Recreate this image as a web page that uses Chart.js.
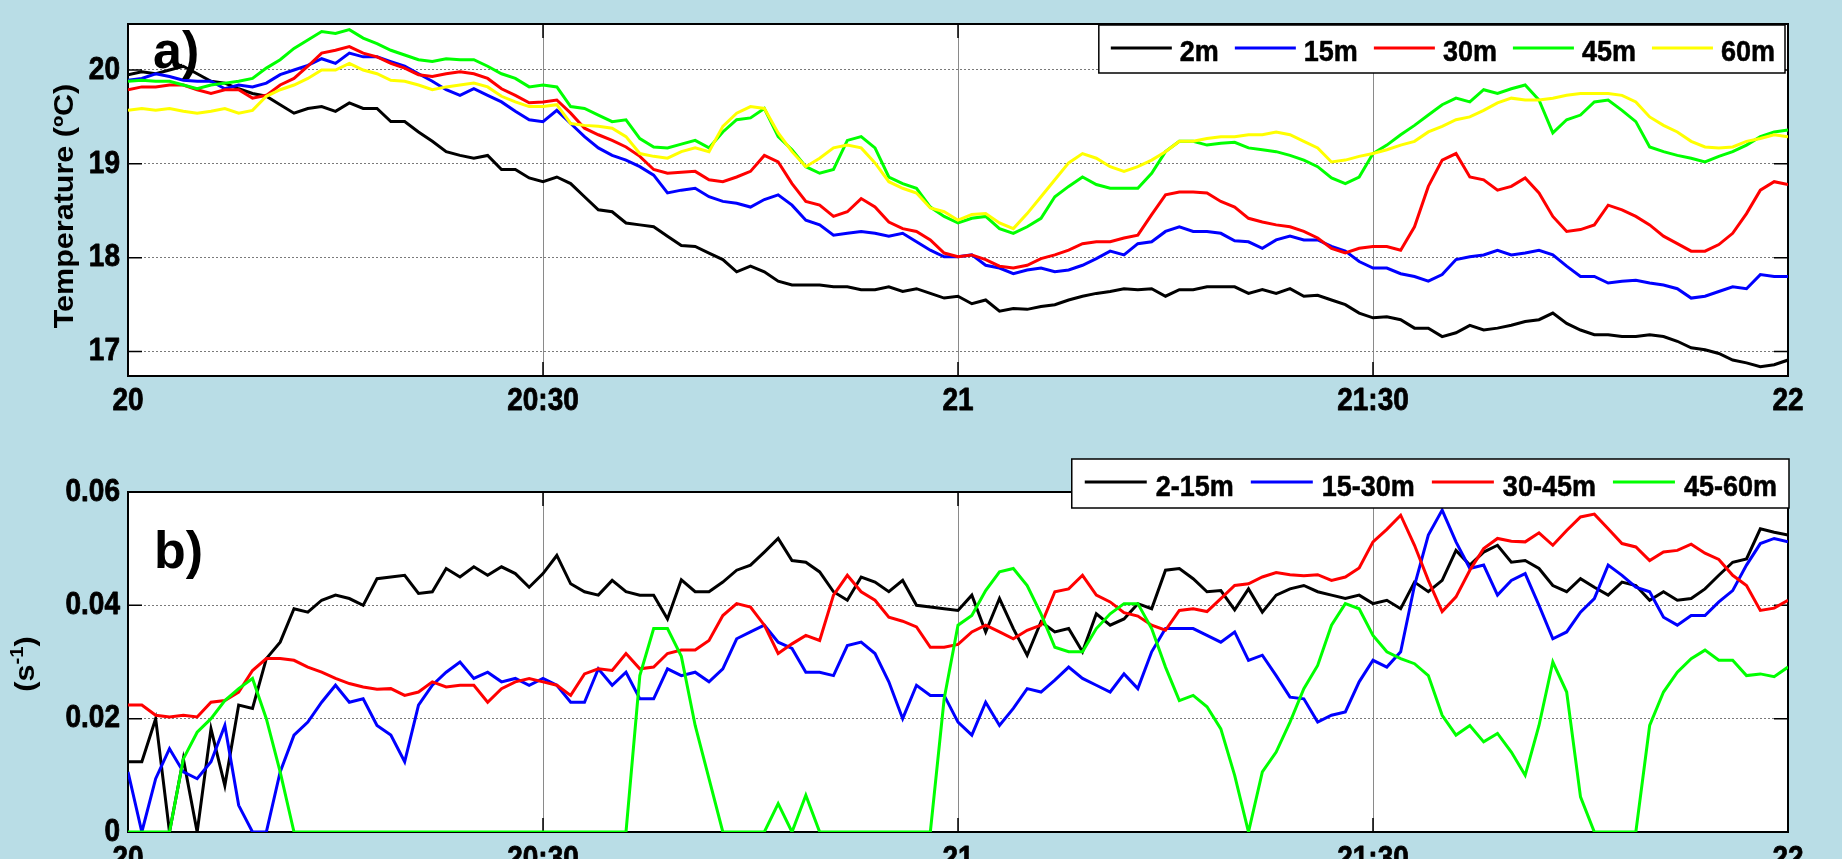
<!DOCTYPE html>
<html>
<head>
<meta charset="utf-8">
<script src="https://cdn.jsdelivr.net/npm/chart.js@4.4.1/dist/chart.umd.min.js"></script>
<style>
  html, body { margin: 0; padding: 0; background: rgb(185, 221, 230); overflow: hidden; }
  canvas { position: absolute; left: 0; display: block; }
  #tempChart { top: 0; }
  #shearChart { top: 430px; }
</style>
</head>
<body>
<canvas id="tempChart" width="1842" height="430"></canvas>
<canvas id="shearChart" width="1842" height="429"></canvas>
<script>
// minutes after 20:00, one sample per minute
const minutes = [
  0, 1, 2, 3, 4, 5, 6, 7, 8, 9, 10, 11, 12, 13, 14, 15, 16, 17, 18, 19, 20,
  21, 22, 23, 24, 25, 26, 27, 28, 29, 30, 31, 32, 33, 34, 35, 36, 37, 38, 39, 40,
  41, 42, 43, 44, 45, 46, 47, 48, 49, 50, 51, 52, 53, 54, 55, 56, 57, 58, 59, 60,
  61, 62, 63, 64, 65, 66, 67, 68, 69, 70, 71, 72, 73, 74, 75, 76, 77, 78, 79, 80,
  81, 82, 83, 84, 85, 86, 87, 88, 89, 90, 91, 92, 93, 94, 95, 96, 97, 98, 99, 100,
  101, 102, 103, 104, 105, 106, 107, 108, 109, 110, 111, 112, 113, 114, 115, 116, 117, 118, 119, 120
];

const xTickMinutes = [0, 30, 60, 90, 120];
const xTickLabels = ['20', '20:30', '21', '21:30', '22'];

// panel a) temperature (ºC)
const tempLabels = ['2m', '15m', '30m', '45m', '60m'];
const temp2m = [
  19.95, 19.98, 19.96, 20.00, 20.04, 19.96, 19.88, 19.86, 19.80, 19.75, 19.72,
  19.63, 19.54, 19.59, 19.61, 19.56, 19.65, 19.59, 19.59, 19.45, 19.45,
  19.34, 19.24, 19.13, 19.09, 19.06, 19.09, 18.94, 18.94, 18.85, 18.81,
  18.86, 18.79, 18.65, 18.51, 18.49, 18.37, 18.35, 18.33, 18.23, 18.13,
  18.12, 18.05, 17.98, 17.85, 17.91, 17.85, 17.75, 17.71, 17.71, 17.71,
  17.69, 17.69, 17.66, 17.66, 17.69, 17.64, 17.67, 17.62, 17.57, 17.59,
  17.51, 17.55, 17.43, 17.46, 17.45, 17.48, 17.50, 17.55, 17.59, 17.62,
  17.64, 17.67, 17.66, 17.67, 17.59, 17.66, 17.66, 17.69, 17.69, 17.69,
  17.62, 17.66, 17.62, 17.67, 17.59, 17.60, 17.55, 17.50, 17.41, 17.36,
  17.37, 17.34, 17.25, 17.25, 17.16, 17.20, 17.28, 17.23, 17.25, 17.28,
  17.32, 17.34, 17.41, 17.30, 17.23, 17.18, 17.18, 17.16, 17.16, 17.18,
  17.16, 17.11, 17.04, 17.02, 16.98, 16.91, 16.88, 16.84, 16.86, 16.91
];
const temp15m = [
  19.89, 19.91, 19.96, 19.93, 19.89, 19.88, 19.88, 19.80, 19.84, 19.82, 19.86,
  19.95, 20.00, 20.05, 20.12, 20.07, 20.18, 20.14, 20.14, 20.09, 20.04,
  19.96, 19.88, 19.79, 19.73, 19.80, 19.73, 19.66, 19.56, 19.47, 19.45,
  19.57, 19.43, 19.29, 19.17, 19.09, 19.04, 18.97, 18.88, 18.69, 18.72,
  18.74, 18.65, 18.60, 18.58, 18.54, 18.62, 18.67, 18.56, 18.40, 18.35,
  18.24, 18.26, 18.28, 18.26, 18.23, 18.26, 18.17, 18.08, 18.01, 18.01,
  18.03, 17.92, 17.89, 17.83, 17.87, 17.89, 17.85, 17.87, 17.92, 17.99,
  18.07, 18.03, 18.15, 18.17, 18.28, 18.33, 18.28, 18.28, 18.26, 18.18,
  18.17, 18.10, 18.19, 18.23, 18.19, 18.19, 18.12, 18.07, 17.96, 17.89,
  17.89, 17.83, 17.80, 17.75, 17.82, 17.98, 18.01, 18.03, 18.08, 18.03,
  18.05, 18.08, 18.03, 17.91, 17.80, 17.80, 17.73, 17.75, 17.76, 17.73,
  17.71, 17.67, 17.57, 17.59, 17.64, 17.69, 17.67, 17.82, 17.80, 17.80
];
const temp30m = [
  19.79, 19.82, 19.82, 19.84, 19.84, 19.79, 19.75, 19.79, 19.79, 19.70, 19.73,
  19.84, 19.91, 20.04, 20.18, 20.21, 20.25, 20.18, 20.14, 20.07, 20.02,
  19.95, 19.93, 19.96, 19.98, 19.96, 19.91, 19.80, 19.73, 19.65, 19.66,
  19.68, 19.54, 19.38, 19.31, 19.25, 19.18, 19.08, 18.94, 18.90, 18.91,
  18.92, 18.83, 18.81, 18.86, 18.92, 19.09, 19.02, 18.79, 18.60, 18.56,
  18.44, 18.49, 18.63, 18.54, 18.38, 18.31, 18.28, 18.19, 18.05, 18.01,
  18.03, 17.98, 17.91, 17.89, 17.92, 17.99, 18.03, 18.08, 18.15, 18.17,
  18.17, 18.21, 18.24, 18.46, 18.67, 18.70, 18.70, 18.69, 18.60, 18.54,
  18.42, 18.38, 18.35, 18.33, 18.28, 18.21, 18.10, 18.05, 18.10, 18.12,
  18.12, 18.08, 18.33, 18.76, 19.04, 19.11, 18.86, 18.83, 18.72, 18.76,
  18.85, 18.69, 18.44, 18.28, 18.30, 18.35, 18.56, 18.51, 18.44, 18.35,
  18.23, 18.15, 18.07, 18.07, 18.14, 18.26, 18.47, 18.72, 18.81, 18.78
];
const temp45m = [
  19.88, 19.89, 19.88, 19.88, 19.84, 19.80, 19.84, 19.86, 19.88, 19.91, 20.02,
  20.11, 20.23, 20.32, 20.41, 20.39, 20.43, 20.34, 20.28, 20.21, 20.16,
  20.11, 20.09, 20.12, 20.11, 20.11, 20.04, 19.96, 19.91, 19.82, 19.84,
  19.82, 19.61, 19.59, 19.52, 19.45, 19.47, 19.27, 19.18, 19.17, 19.21,
  19.25, 19.17, 19.34, 19.47, 19.49, 19.59, 19.29, 19.15, 18.97, 18.90,
  18.94, 19.25, 19.29, 19.17, 18.86, 18.79, 18.74, 18.54, 18.44, 18.37,
  18.42, 18.44, 18.31, 18.26, 18.33, 18.42, 18.65, 18.76, 18.86, 18.78,
  18.74, 18.74, 18.74, 18.90, 19.13, 19.24, 19.24, 19.20, 19.22, 19.23,
  19.17, 19.15, 19.13, 19.09, 19.04, 18.97, 18.85, 18.79, 18.86, 19.11,
  19.20, 19.31, 19.41, 19.52, 19.63, 19.70, 19.66, 19.79, 19.75, 19.80,
  19.84, 19.68, 19.33, 19.47, 19.52, 19.66, 19.68, 19.57, 19.45, 19.18,
  19.13, 19.09, 19.06, 19.02, 19.08, 19.13, 19.20, 19.29, 19.34, 19.36
];
const temp60m = [
  19.57, 19.59, 19.57, 19.59, 19.56, 19.54, 19.56, 19.59, 19.54, 19.57, 19.72,
  19.79, 19.84, 19.91, 20.00, 20.00, 20.07, 20.00, 19.96, 19.89, 19.88,
  19.84, 19.79, 19.82, 19.84, 19.86, 19.82, 19.72, 19.66, 19.61, 19.61,
  19.63, 19.43, 19.41, 19.40, 19.38, 19.29, 19.11, 19.08, 19.06, 19.13,
  19.17, 19.13, 19.40, 19.54, 19.61, 19.59, 19.33, 19.13, 18.97, 19.06,
  19.17, 19.20, 19.17, 19.01, 18.81, 18.74, 18.69, 18.53, 18.49, 18.40,
  18.46, 18.47, 18.37, 18.31, 18.47, 18.65, 18.83, 19.01, 19.11, 19.06,
  18.97, 18.92, 18.97, 19.04, 19.13, 19.24, 19.24, 19.27, 19.29, 19.29,
  19.31, 19.31, 19.34, 19.31, 19.24, 19.17, 19.02, 19.04, 19.08, 19.11,
  19.15, 19.20, 19.24, 19.34, 19.40, 19.47, 19.50, 19.57, 19.65, 19.70,
  19.68, 19.68, 19.70, 19.73, 19.75, 19.75, 19.75, 19.73, 19.66, 19.50,
  19.41, 19.34, 19.24, 19.18, 19.17, 19.18, 19.24, 19.27, 19.31, 19.29
];
const tempTicks = [17, 18, 19, 20];
const tempTickLabels = ['17', '18', '19', '20'];

// panel b) shear (s-1)
const shearLabels = ['2-15m', '15-30m', '30-45m', '45-60m'];
const shear2to15 = [
  0.0124, 0.0124, 0.0200, 0, 0.0129, 0, 0.0182, 0.0082, 0.0224, 0.0218, 0.0306,
  0.0335, 0.0394, 0.0388, 0.0409, 0.0418, 0.0412, 0.0400, 0.0447, 0.0450, 0.0453,
  0.0421, 0.0424, 0.0465, 0.0450, 0.0468, 0.0453, 0.0468, 0.0456, 0.0432, 0.0456,
  0.0488, 0.0438, 0.0424, 0.0418, 0.0444, 0.0424, 0.0418, 0.0418, 0.0376, 0.0445,
  0.0424, 0.0424, 0.0441, 0.0462, 0.0471, 0.0494, 0.0518, 0.0479, 0.0476, 0.0459,
  0.0424, 0.0409, 0.0450, 0.0441, 0.0424, 0.0444, 0.0400, 0.0397, 0.0394, 0.0391,
  0.0418, 0.0353, 0.0412, 0.0359, 0.0312, 0.0371, 0.0353, 0.0359, 0.0318, 0.0385,
  0.0365, 0.0376, 0.0403, 0.0394, 0.0462, 0.0465, 0.0447, 0.0424, 0.0426, 0.0392,
  0.0429, 0.0388, 0.0418, 0.0429, 0.0435, 0.0424, 0.0418, 0.0412, 0.0418, 0.0403,
  0.0409, 0.0394, 0.0441, 0.0424, 0.0444, 0.0497, 0.0471, 0.0494, 0.0506, 0.0476,
  0.0479, 0.0465, 0.0435, 0.0424, 0.0447, 0.0432, 0.0418, 0.0441, 0.0435, 0.0409,
  0.0424, 0.0409, 0.0412, 0.0429, 0.0453, 0.0476, 0.0482, 0.0535, 0.0529, 0.0524
];
const shear15to30 = [
  0.0106, 0, 0.0094, 0.0147, 0.0106, 0.0094, 0.0124, 0.0188, 0.0047, 0, 0,
  0.0106, 0.0171, 0.0194, 0.0229, 0.0259, 0.0229, 0.0235, 0.0188, 0.0171, 0.0124,
  0.0224, 0.0259, 0.0282, 0.0300, 0.0271, 0.0282, 0.0265, 0.0271, 0.0259, 0.0271,
  0.0259, 0.0229, 0.0229, 0.0288, 0.0259, 0.0282, 0.0235, 0.0235, 0.0288, 0.0276,
  0.0282, 0.0265, 0.0288, 0.0341, 0.0353, 0.0365, 0.0335, 0.0324, 0.0282, 0.0282,
  0.0276, 0.0329, 0.0335, 0.0315, 0.0265, 0.0200, 0.0259, 0.0241, 0.0241, 0.0194,
  0.0171, 0.0229, 0.0188, 0.0218, 0.0253, 0.0247, 0.0268, 0.0291, 0.0271, 0.0259,
  0.0247, 0.0279, 0.0253, 0.0318, 0.0359, 0.0359, 0.0359, 0.0347, 0.0335, 0.0353,
  0.0303, 0.0312, 0.0276, 0.0238, 0.0235, 0.0194, 0.0206, 0.0212, 0.0265, 0.0303,
  0.0291, 0.0318, 0.0435, 0.0524, 0.0568, 0.0512, 0.0465, 0.0471, 0.0418, 0.0444,
  0.0456, 0.0400, 0.0341, 0.0353, 0.0388, 0.0412, 0.0471, 0.0453, 0.0432, 0.0424,
  0.0379, 0.0365, 0.0382, 0.0382, 0.0406, 0.0426, 0.0471, 0.0509, 0.0518, 0.0512
];
const shear30to45 = [
  0.0224, 0.0224, 0.0206, 0.0203, 0.0206, 0.0203, 0.0229, 0.0232, 0.0247, 0.0285, 0.0306,
  0.0306, 0.0303, 0.0291, 0.0282, 0.0271, 0.0262, 0.0256, 0.0252, 0.0253, 0.0241,
  0.0247, 0.0265, 0.0256, 0.0259, 0.0259, 0.0229, 0.0253, 0.0265, 0.0271, 0.0265,
  0.0259, 0.0241, 0.0279, 0.0288, 0.0285, 0.0315, 0.0288, 0.0291, 0.0315, 0.0321,
  0.0321, 0.0338, 0.0382, 0.0403, 0.0397, 0.0365, 0.0315, 0.0332, 0.0347, 0.0338,
  0.0418, 0.0453, 0.0424, 0.0409, 0.0379, 0.0372, 0.0362, 0.0326, 0.0326, 0.0331,
  0.0353, 0.0365, 0.0353, 0.0341, 0.0356, 0.0365, 0.0424, 0.0429, 0.0453, 0.0418,
  0.0406, 0.0387, 0.0381, 0.0365, 0.0356, 0.0391, 0.0394, 0.0389, 0.0412, 0.0435,
  0.0438, 0.0450, 0.0458, 0.0454, 0.0452, 0.0454, 0.0444, 0.0450, 0.0466, 0.0512,
  0.0534, 0.0559, 0.0506, 0.0444, 0.0389, 0.0415, 0.0462, 0.0500, 0.0518, 0.0513,
  0.0512, 0.0528, 0.0506, 0.0532, 0.0556, 0.0561, 0.0535, 0.0509, 0.0503, 0.0479,
  0.0494, 0.0497, 0.0508, 0.0492, 0.0481, 0.0453, 0.0435, 0.0391, 0.0395, 0.0409
];
const shear45to60 = [
  0, 0, 0, 0, 0.0129, 0.0176, 0.0200, 0.0232, 0.0253, 0.0271, 0.0200,
  0.0106, 0, 0, 0, 0, 0, 0, 0, 0, 0,
  0, 0, 0, 0, 0, 0, 0, 0, 0, 0,
  0, 0, 0, 0, 0, 0, 0.0276, 0.0359, 0.0359, 0.0310,
  0.0188, 0.0094, 0, 0, 0, 0, 0.0050, 0, 0.0065, 0,
  0, 0, 0, 0, 0, 0, 0, 0, 0.0235, 0.0365,
  0.0382, 0.0426, 0.0459, 0.0465, 0.0435, 0.0385, 0.0326, 0.0318, 0.0318, 0.0359,
  0.0385, 0.0403, 0.0403, 0.0359, 0.0291, 0.0232, 0.0241, 0.0221, 0.0182, 0.0100,
  0, 0.0106, 0.0141, 0.0194, 0.0253, 0.0294, 0.0365, 0.0403, 0.0394, 0.0347,
  0.0318, 0.0306, 0.0297, 0.0276, 0.0206, 0.0171, 0.0188, 0.0159, 0.0174, 0.0141,
  0.0100, 0.0188, 0.0300, 0.0247, 0.0062, 0, 0, 0, 0, 0.0188,
  0.0247, 0.0282, 0.0306, 0.0321, 0.0303, 0.0303, 0.0276, 0.0279, 0.0274, 0.0291
];
const shearTicks = [0, 0.02, 0.04, 0.06];
const shearTickLabels = ['0', '0.02', '0.04', '0.06'];

const tempColors = ['#000000', '#0000ff', '#ff0000', '#00ff00', '#ffff00'];
const shearColors = ['#000000', '#0000ff', '#ff0000', '#00ff00'];

const FONT = '"Liberation Sans", Arial, "DejaVu Sans", sans-serif';
const TALL = 1.13;   // the source figure's lettering is stretched vertically
Chart.defaults.font.family = FONT;
Chart.defaults.font.weight = 'bold';
Chart.defaults.color = '#000';

function toPoints(values) {
    return minutes.map((m, i) => ({ x: m, y: values[i] }));
}

function makeDatasets(labels, series, colors) {
    return series.map((vals, i) => ({
        label: labels[i],
        data: toPoints(vals),
        borderColor: colors[i],
        backgroundColor: colors[i],
        borderWidth: 3,
        pointRadius: 0,
        tension: 0,
        order: series.length - i
    }));
}

// draw text, optionally rotated, with a vertical stretch like the source image
function putText(ctx, text, x, y, o) {
    ctx.save();
    ctx.translate(x, y);
    if (o.rotate) {
        ctx.rotate(o.rotate);
        ctx.scale(o.stretch || 1, 1);
    } else {
        ctx.scale(1, o.stretch || 1);
    }
    ctx.font = o.font;
    ctx.textAlign = o.align || 'left';
    ctx.textBaseline = o.baseline || 'alphabetic';
    ctx.fillStyle = '#000';
    if (o.stroke) {
        ctx.strokeStyle = '#000';
        ctx.lineWidth = o.stroke;
        ctx.lineJoin = 'round';
        ctx.strokeText(text, 0, 0);
    }
    ctx.fillText(text, 0, 0);
    ctx.restore();
}

// white plot box, black frame with inward ticks, labels, legend (matlab look)
const frameBox = {
    id: 'frameBox',
    beforeDraw(chart) {
        const { ctx, chartArea: a } = chart;
        ctx.save();
        ctx.fillStyle = '#fff';
        ctx.fillRect(a.left, a.top, a.width, a.height);
        ctx.restore();
    },
    beforeDatasetsDraw(chart) {
        const { ctx, chartArea: a, scales } = chart;
        ctx.save();
        ctx.strokeStyle = '#000';
        ctx.lineWidth = 1.5;
        ctx.beginPath();
        scales.y.ticks.forEach(t => {
            const y = scales.y.getPixelForValue(t.value);
            ctx.moveTo(a.left, y); ctx.lineTo(a.left + 14, y);
            ctx.moveTo(a.right, y); ctx.lineTo(a.right - 14, y);
        });
        scales.x.ticks.forEach(t => {
            const x = scales.x.getPixelForValue(t.value);
            ctx.moveTo(x, a.bottom); ctx.lineTo(x, a.bottom - 14);
            ctx.moveTo(x, a.top); ctx.lineTo(x, a.top + 14);
        });
        ctx.stroke();
        ctx.lineWidth = 2;
        ctx.strokeRect(a.left, a.top, a.width, a.height);
        ctx.restore();
    },
    afterDraw(chart, args, opts) {
        const { ctx, chartArea: a, scales } = chart;
        const tickFont = 'bold 28px ' + FONT;

        // tick labels from the scales
        scales.x.ticks.forEach((t, i) => {
            putText(ctx, xTickLabels[i], scales.x.getPixelForValue(t.value), opts.xLabelY,
                { font: tickFont, align: 'center', stretch: TALL, stroke: 0.7 });
        });
        scales.y.ticks.forEach((t, i) => {
            putText(ctx, opts.yLabels[i], a.left - 8, scales.y.getPixelForValue(t.value),
                { font: tickFont, align: 'right', baseline: 'middle', stretch: TALL, stroke: 0.7 });
        });

        // y axis title
        const tf = 'bold 27px ' + FONT;
        if (opts.yTitleSup) {
            ctx.save();
            ctx.translate(opts.yTitleX, opts.yTitleY);
            ctx.rotate(-Math.PI / 2);
            ctx.scale(TALL, 1);
            ctx.textBaseline = 'middle';
            ctx.textAlign = 'left';
            ctx.fillStyle = '#000';
            const sf = 'bold 18px ' + FONT;
            ctx.font = tf;
            const w1 = ctx.measureText(opts.yTitle).width;
            const w3 = ctx.measureText(')').width;
            ctx.font = sf;
            const w2 = ctx.measureText(opts.yTitleSup).width;
            let x = -(w1 + w2 + w3) / 2;
            ctx.font = tf;
            ctx.fillText(opts.yTitle, x, 0);
            x += w1;
            ctx.font = sf;
            ctx.fillText(opts.yTitleSup, x, -9);
            x += w2;
            ctx.font = tf;
            ctx.fillText(')', x, 0);
            ctx.restore();
        } else {
            putText(ctx, opts.yTitle, opts.yTitleX, opts.yTitleY,
                { font: tf, align: 'center', baseline: 'middle', rotate: -Math.PI / 2, stretch: TALL });
        }

        // panel letter
        putText(ctx, opts.letter, opts.letterX, opts.letterY, { font: 'bold 52px ' + FONT });

        // legend box, horizontal, top right
        const lg = opts.legend;
        const lf = 'bold 27px ' + FONT;
        ctx.save();
        ctx.font = lf;
        const sets = chart.data.datasets;
        const widths = sets.map(d => ctx.measureText(d.label).width);
        let total = lg.padL + lg.padR + (sets.length - 1) * lg.space;
        sets.forEach((d, i) => { total += lg.lineLen + lg.gap + widths[i]; });
        const right = a.right + lg.dx;
        const left = right - total;
        ctx.fillStyle = '#fff';
        ctx.fillRect(left, lg.top, total, lg.height);
        ctx.strokeStyle = '#000';
        ctx.lineWidth = 1.5;
        ctx.strokeRect(left, lg.top, total, lg.height);
        let x = left + lg.padL;
        sets.forEach((d, i) => {
            ctx.strokeStyle = d.borderColor;
            ctx.lineWidth = 3;
            ctx.beginPath();
            ctx.moveTo(x, lg.lineY);
            ctx.lineTo(x + lg.lineLen, lg.lineY);
            ctx.stroke();
            x += lg.lineLen + lg.gap;
            putText(ctx, d.label, x, lg.textY, { font: lf, stretch: 1.08, stroke: 0.5 });
            x += widths[i] + lg.space;
        });
        ctx.restore();
    }
};

function xScale(axisHeight) {
    return {
        type: 'linear',
        min: 0,
        max: 120,
        afterBuildTicks: s => { s.ticks = xTickMinutes.map(v => ({ value: v })); },
        afterFit: s => { s.height = axisHeight; },
        ticks: { display: false },
        grid: { color: '#8a8a8a', lineWidth: 1, drawTicks: false },
        border: { display: false }
    };
}

function yScale(min, max, ticks) {
    return {
        min: min,
        max: max,
        afterBuildTicks: s => { s.ticks = ticks.map(v => ({ value: v })); },
        afterFit: s => { s.width = 128; },
        ticks: { display: false },
        grid: { color: '#7a7a7a', lineWidth: 1, drawTicks: false },
        border: { display: false, dash: [2, 2] }
    };
}

// a) temperature
new Chart(document.getElementById('tempChart'), {
    type: 'line',
    data: { datasets: makeDatasets(tempLabels, [temp2m, temp15m, temp30m, temp45m, temp60m], tempColors) },
    options: {
        responsive: false,
        animation: false,
        events: [],
        layout: { padding: { left: 0, right: 54, top: 24, bottom: 0 } },
        plugins: {
            legend: { display: false },
            tooltip: { enabled: false },
            frameBox: {
                xLabelY: 410, yLabels: tempTickLabels,
                yTitle: 'Temperature (ºC)', yTitleX: 66, yTitleY: 206,
                letter: 'a)', letterX: 153, letterY: 68,
                legend: { top: 25, height: 48, dx: -3, padL: 12, padR: 10, lineLen: 61, gap: 8, space: 16, lineY: 48, textY: 61 }
            }
        },
        scales: {
            x: xScale(54),
            y: yScale(16.74, 20.49, tempTicks)
        }
    },
    plugins: [frameBox]
});

// b) shear
new Chart(document.getElementById('shearChart'), {
    type: 'line',
    data: { datasets: makeDatasets(shearLabels, [shear2to15, shear15to30, shear30to45, shear45to60], shearColors) },
    options: {
        responsive: false,
        animation: false,
        events: [],
        layout: { padding: { left: 0, right: 54, top: 62, bottom: 0 } },
        plugins: {
            legend: { display: false },
            tooltip: { enabled: false },
            frameBox: {
                xLabelY: 438, yLabels: shearTickLabels,
                yTitle: '(s', yTitleSup: '-1', yTitleX: 27, yTitleY: 234,
                letter: 'b)', letterX: 154, letterY: 138,
                legend: { top: 29, height: 49, dx: 1, padL: 13, padR: 12, lineLen: 62, gap: 9, space: 17, lineY: 52, textY: 66 }
            }
        },
        scales: {
            x: xScale(27),
            y: yScale(0, 0.06, shearTicks)
        }
    },
    plugins: [frameBox]
});
</script>
</body>
</html>
